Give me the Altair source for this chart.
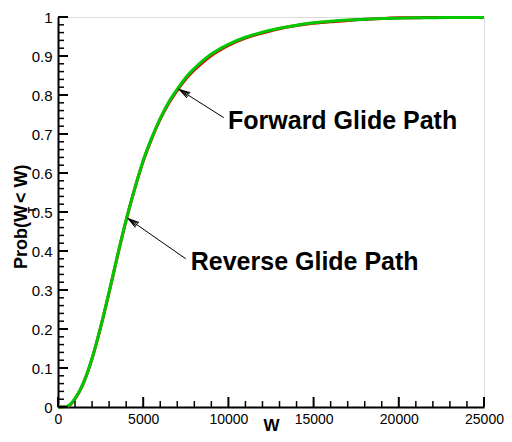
import altair as alt
import pandas as pd

# ---- data ----
w_values = [0, 250, 500, 750, 1000, 1250, 1500, 2000, 2500, 3000, 3500, 4000, 4500,
            5000, 5500, 6000, 6500, 7000, 7500, 8000, 8500, 9000, 10000, 11000,
            12000, 13000, 14000, 15000, 16000, 17000, 18000, 19000, 20000, 21000,
            22000, 23000, 24000, 25000]
forward_prob = [0, 0, 0.001, 0.008, 0.022, 0.040, 0.063, 0.125, 0.205, 0.295, 0.390,
                0.480, 0.560, 0.632, 0.690, 0.740, 0.782, 0.815, 0.845, 0.868, 0.888,
                0.905, 0.930, 0.948, 0.961, 0.971, 0.979, 0.985, 0.989, 0.992, 0.994,
                0.996, 0.997, 0.998, 0.998, 0.999, 0.999, 0.999]
reverse_prob = [0, 0, 0.001, 0.007, 0.021, 0.039, 0.062, 0.124, 0.204, 0.294, 0.389,
                0.479, 0.559, 0.630, 0.688, 0.738, 0.779, 0.812, 0.841, 0.864, 0.884,
                0.901, 0.927, 0.946, 0.959, 0.970, 0.978, 0.984, 0.988, 0.991, 0.994,
                0.996, 0.998, 0.998, 0.999, 0.999, 0.999, 0.999]

x_major = [0, 5000, 10000, 15000, 20000, 25000]
x_minor = [1000, 2000, 3000, 4000, 6000, 7000, 8000, 9000, 11000, 12000, 13000, 14000,
           16000, 17000, 18000, 19000, 21000, 22000, 23000, 24000]
y_major = [0, 0.1, 0.2, 0.3, 0.4, 0.5, 0.6, 0.7, 0.8, 0.9, 1.0]
y_minor = [round(0.02 * i, 2) for i in range(51) if i % 5 != 0]

labels = ["Forward Glide Path", "Reverse Glide Path"]
label_w = [9977, 7790]
label_p = [0.7125, 0.351]
arrow_tip_w = [7117, 4118]
arrow_tip_p = [0.814, 0.483]
arrow_tail_w = [9727, 7500]
arrow_tail_p = [0.742, 0.380]
arrow_angle = [302, 305]

W_PLOT = 426
H_PLOT = 390
FONT = "Liberation Sans"

xs = alt.Scale(domain=[0, 25000], nice=False, zero=False)
ys = alt.Scale(domain=[0, 1], nice=False, zero=False)

curve_df = pd.DataFrame({
    "W": w_values * 2,
    "P": reverse_prob + forward_prob,
    "series": ["Reverse"] * len(w_values) + ["Forward"] * len(w_values),
})

X_AXIS = alt.Axis(values=x_major, format="d", title="W", ticks=False,
                  grid=False, domainColor="black", domainWidth=2,
                  labelFontSize=14, labelFont=FONT, labelColor="black",
                  labelPadding=5, labelFlush=False, labelOverlap=False,
                  titleFont=FONT, titleFontSize=17, titleFontWeight="bold",
                  titleColor="black", titlePadding=-9)
Y_AXIS = alt.Axis(values=y_major, format="~g", title=None, ticks=False,
                  grid=False, domainColor="black", domainWidth=2,
                  labelFontSize=15, labelFont=FONT, labelColor="black",
                  labelPadding=6, labelFlush=False, labelOverlap=False)


def X(field):
    return alt.X(f"{field}:Q", scale=xs, axis=X_AXIS)


def Y(field):
    return alt.Y(f"{field}:Q", scale=ys, axis=Y_AXIS)


red = alt.Chart(curve_df[curve_df.series == "Reverse"]).mark_line(
    color="#e00000", strokeWidth=3, interpolate="monotone"
).encode(x=X("W"), y=Y("P"))
green = alt.Chart(curve_df[curve_df.series == "Forward"]).mark_line(
    color="#00c800", strokeWidth=3, interpolate="monotone"
).encode(x=X("W"), y=Y("P"))

# inward ticks
xmaj = alt.Chart(pd.DataFrame({"W": x_major})).mark_rule(color="black", strokeWidth=2).encode(
    x=X("W"), y=alt.value(H_PLOT), y2=alt.value(H_PLOT - 10))
xmin = alt.Chart(pd.DataFrame({"W": x_minor})).mark_rule(color="black", strokeWidth=1.5).encode(
    x=X("W"), y=alt.value(H_PLOT), y2=alt.value(H_PLOT - 6))
ymaj = alt.Chart(pd.DataFrame({"P": y_major})).mark_rule(color="black", strokeWidth=2).encode(
    y=Y("P"), x=alt.value(0), x2=alt.value(10))
ymin = alt.Chart(pd.DataFrame({"P": y_minor})).mark_rule(color="black", strokeWidth=1.5).encode(
    y=Y("P"), x=alt.value(0), x2=alt.value(6))

ann_df = pd.DataFrame({
    "label": labels, "W": label_w, "P": label_p,
    "tw": arrow_tip_w, "tp": arrow_tip_p, "aw": arrow_tail_w, "ap": arrow_tail_p,
    "ang": arrow_angle,
})
ann_text = alt.Chart(ann_df).mark_text(
    align="left", baseline="alphabetic", font=FONT, fontSize=25, fontWeight="bold",
    color="black"
).encode(x=X("W"), y=Y("P"), text="label:N")
shaft = alt.Chart(ann_df).mark_rule(color="black", strokeWidth=1).encode(
    x=X("tw"), y=Y("tp"), x2="aw:Q", y2="ap:Q")
head = alt.Chart(ann_df).mark_point(
    shape="M -0.28 1 L 0 0 L 0.28 1 M -0.14 1 L 0 0 L 0.14 1",
    filled=False, stroke="black", strokeWidth=1, size=484, opacity=1
).encode(x=X("tw"), y=Y("tp"), angle=alt.Angle("ang:Q", scale=None))

one = pd.DataFrame({"a": [0]})
yt1 = alt.Chart(one).mark_text(angle=270, align="left", baseline="alphabetic", font=FONT,
                               fontSize=18, fontWeight="bold", color="black").encode(
    x=alt.value(-31), y=alt.value(252), text=alt.value("Prob(W"))
yt2 = alt.Chart(one).mark_text(angle=270, align="left", baseline="alphabetic", font=FONT,
                               fontSize=10, fontWeight="bold", color="black").encode(
    x=alt.value(-22), y=alt.value(196), text=alt.value("T"))
yt3 = alt.Chart(one).mark_text(angle=270, align="left", baseline="alphabetic", font=FONT,
                               fontSize=18, fontWeight="bold", color="black").encode(
    x=alt.value(-31), y=alt.value(186), text=alt.value(" < W)"))

chart = alt.layer(red, green, xmaj, xmin, ymaj, ymin, shaft, head, ann_text, yt1, yt2, yt3).properties(
    width=W_PLOT, height=H_PLOT,
    autosize=alt.AutoSizeParams(type="none"),
    padding={"left": 50, "top": 9, "right": 20, "bottom": 27},
).configure_view(stroke=None).configure(background="white")

chart.save("out.html", embed_options={"renderer": "svg", "actions": False})
